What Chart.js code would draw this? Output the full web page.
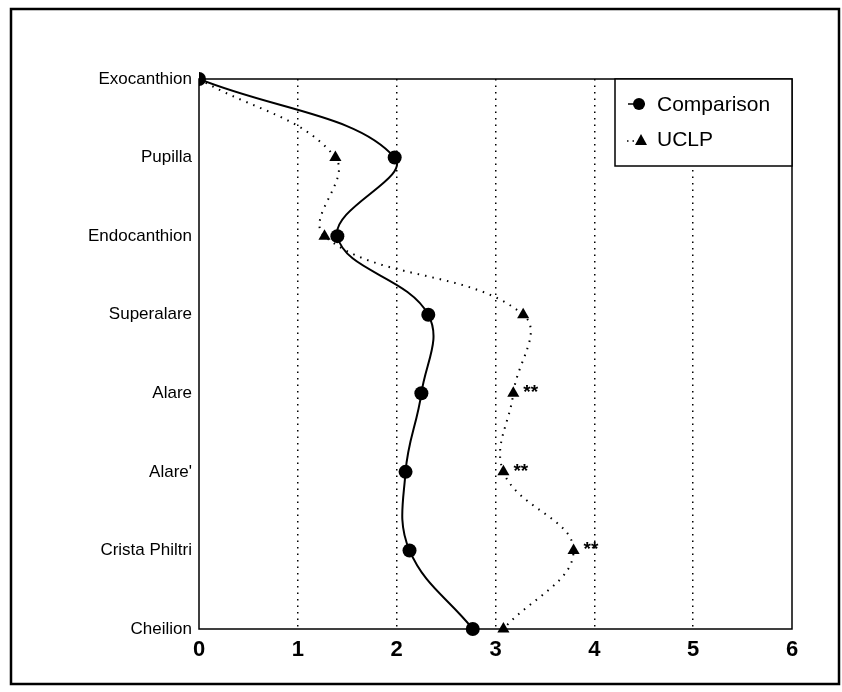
<!DOCTYPE html>
<html lang="en">
<head>
    <meta charset="UTF-8">
    <title>Comparison vs UCLP</title>
    <script src="https://cdn.jsdelivr.net/npm/chart.js"></script>
    <style>
        html, body {
            margin: 0;
            padding: 0;
            background: #ffffff;
        }
        #wrap {
            width: 842px;
            height: 692px;
        }
    </style>
</head>
<body>
<div id="wrap">
    <canvas id="grafico" width="842" height="692"></canvas>
</div>

<script>
    // Dados
    const pontos = ["Exocanthion", "Pupilla", "Endocanthion", "Superalare", "Alare", "Alare'", "Crista Philtri", "Cheilion"];
    const comparison = [0, 1.98, 1.40, 2.32, 2.25, 2.09, 2.13, 2.77];
    const uclp = [0, 1.38, 1.27, 3.28, 3.18, 3.08, 3.79, 3.08];
    const significancia = ["", "", "", "", "**", "**", "**", ""];
    const xTicks = [0, 1, 2, 3, 4, 5, 6];

    const fonte = "'Liberation Sans', Arial, sans-serif";

    // moldura externa + caixa do gráfico
    const molduraPlugin = {
        id: "moldura",
        beforeDraw(chart) {
            const ctx = chart.ctx;
            ctx.save();
            ctx.fillStyle = "#fff";
            ctx.fillRect(0, 0, chart.width, chart.height);
            ctx.strokeStyle = "#000";
            ctx.lineWidth = 2.5;
            ctx.strokeRect(11, 9, 828, 675);
            ctx.restore();
        },
        beforeDatasetsDraw(chart) {
            const { ctx, chartArea: a } = chart;
            ctx.save();
            ctx.strokeStyle = "#000";
            ctx.lineWidth = 1.5;
            ctx.strokeRect(a.left, a.top, a.right - a.left, a.bottom - a.top);
            ctx.restore();
        }
    };

    // asteriscos + legenda
    const extrasPlugin = {
        id: "extras",
        afterDatasetsDraw(chart) {
            const { ctx, chartArea: a } = chart;
            const meta = chart.getDatasetMeta(1);
            ctx.save();
            ctx.fillStyle = "#000";
            ctx.font = "bold 19px " + fonte;
            ctx.textAlign = "left";
            ctx.textBaseline = "top";
            meta.data.forEach((p, i) => {
                if (significancia[i]) ctx.fillText(significancia[i], p.x + 10, p.y - 10);
            });

            // legenda
            const bx = a.right - 177, by = a.top, bh = 87;
            ctx.fillStyle = "#fff";
            ctx.fillRect(bx, by, a.right - bx, bh);
            ctx.strokeStyle = "#000";
            ctx.lineWidth = 1.5;
            ctx.strokeRect(bx, by, a.right - bx, bh);

            ctx.fillStyle = "#000";
            const ds = chart.data.datasets;
            const y1 = by + 25, y2 = by + 62;
            ctx.lineWidth = 1.5;
            ctx.beginPath();
            ctx.moveTo(bx + 13, y1);
            ctx.lineTo(bx + 30, y1);
            ctx.stroke();
            ctx.beginPath();
            ctx.arc(bx + 24, y1, 6, 0, Math.PI * 2);
            ctx.fill();

            ctx.setLineDash([1.5, 4]);
            ctx.beginPath();
            ctx.moveTo(bx + 12, y2);
            ctx.lineTo(bx + 22, y2);
            ctx.stroke();
            ctx.setLineDash([]);
            ctx.beginPath();
            ctx.moveTo(bx + 26, y2 - 7);
            ctx.lineTo(bx + 32, y2 + 4);
            ctx.lineTo(bx + 20, y2 + 4);
            ctx.closePath();
            ctx.fill();

            ctx.font = "21px " + fonte;
            ctx.textBaseline = "middle";
            ctx.fillText(ds[0].label, bx + 42, y1 + 1);
            ctx.fillText(ds[1].label, bx + 42, y2 - 1);
            ctx.restore();
        }
    };

    new Chart(document.getElementById("grafico").getContext("2d"), {
        type: "line",
        data: {
            labels: pontos,
            datasets: [
                {
                    label: "Comparison",
                    data: comparison,
                    borderColor: "#000",
                    backgroundColor: "#000",
                    borderWidth: 2,
                    tension: 0.4,
                    pointStyle: "circle",
                    pointRadius: 7,
                    pointBorderWidth: 0
                },
                {
                    label: "UCLP",
                    data: uclp,
                    borderColor: "#000",
                    backgroundColor: "#000",
                    borderWidth: 2,
                    borderDash: [1.5, 6],
                    tension: 0.4,
                    pointStyle: "triangle",
                    pointRadius: 7,
                    pointBorderWidth: 0
                }
            ]
        },
        options: {
            indexAxis: "y",
            responsive: false,
            animation: false,
            devicePixelRatio: 1,
            layout: { padding: { top: 79, left: 0, right: 50, bottom: 23 } },
            plugins: {
                legend: { display: false },
                tooltip: { enabled: false }
            },
            scales: {
                x: {
                    type: "linear",
                    min: xTicks[0],
                    max: xTicks[xTicks.length - 1],
                    afterBuildTicks: s => { s.ticks = xTicks.map(v => ({ value: v })); },
                    afterFit: s => { s.height = 40; },
                    grid: {
                        color: ctx => (ctx.index === 0 || ctx.index === xTicks.length - 1) ? "rgba(0,0,0,0)" : "#000",
                        lineWidth: 1.5,
                        drawTicks: false
                    },
                    border: { display: false, dash: [1.5, 5] },
                    ticks: {
                        color: "#000",
                        padding: 8,
                        maxRotation: 0,
                        font: { family: fonte, size: 22, weight: "bold" }
                    }
                },
                y: {
                    type: "category",
                    offset: false,
                    afterFit: s => { s.width = 199; },
                    grid: { display: false, drawTicks: false },
                    border: { display: false },
                    ticks: {
                        color: "#000",
                        padding: 7,
                        font: { family: fonte, size: 17 }
                    }
                }
            }
        },
        plugins: [molduraPlugin, extrasPlugin]
    });
</script>
</body>
</html>
